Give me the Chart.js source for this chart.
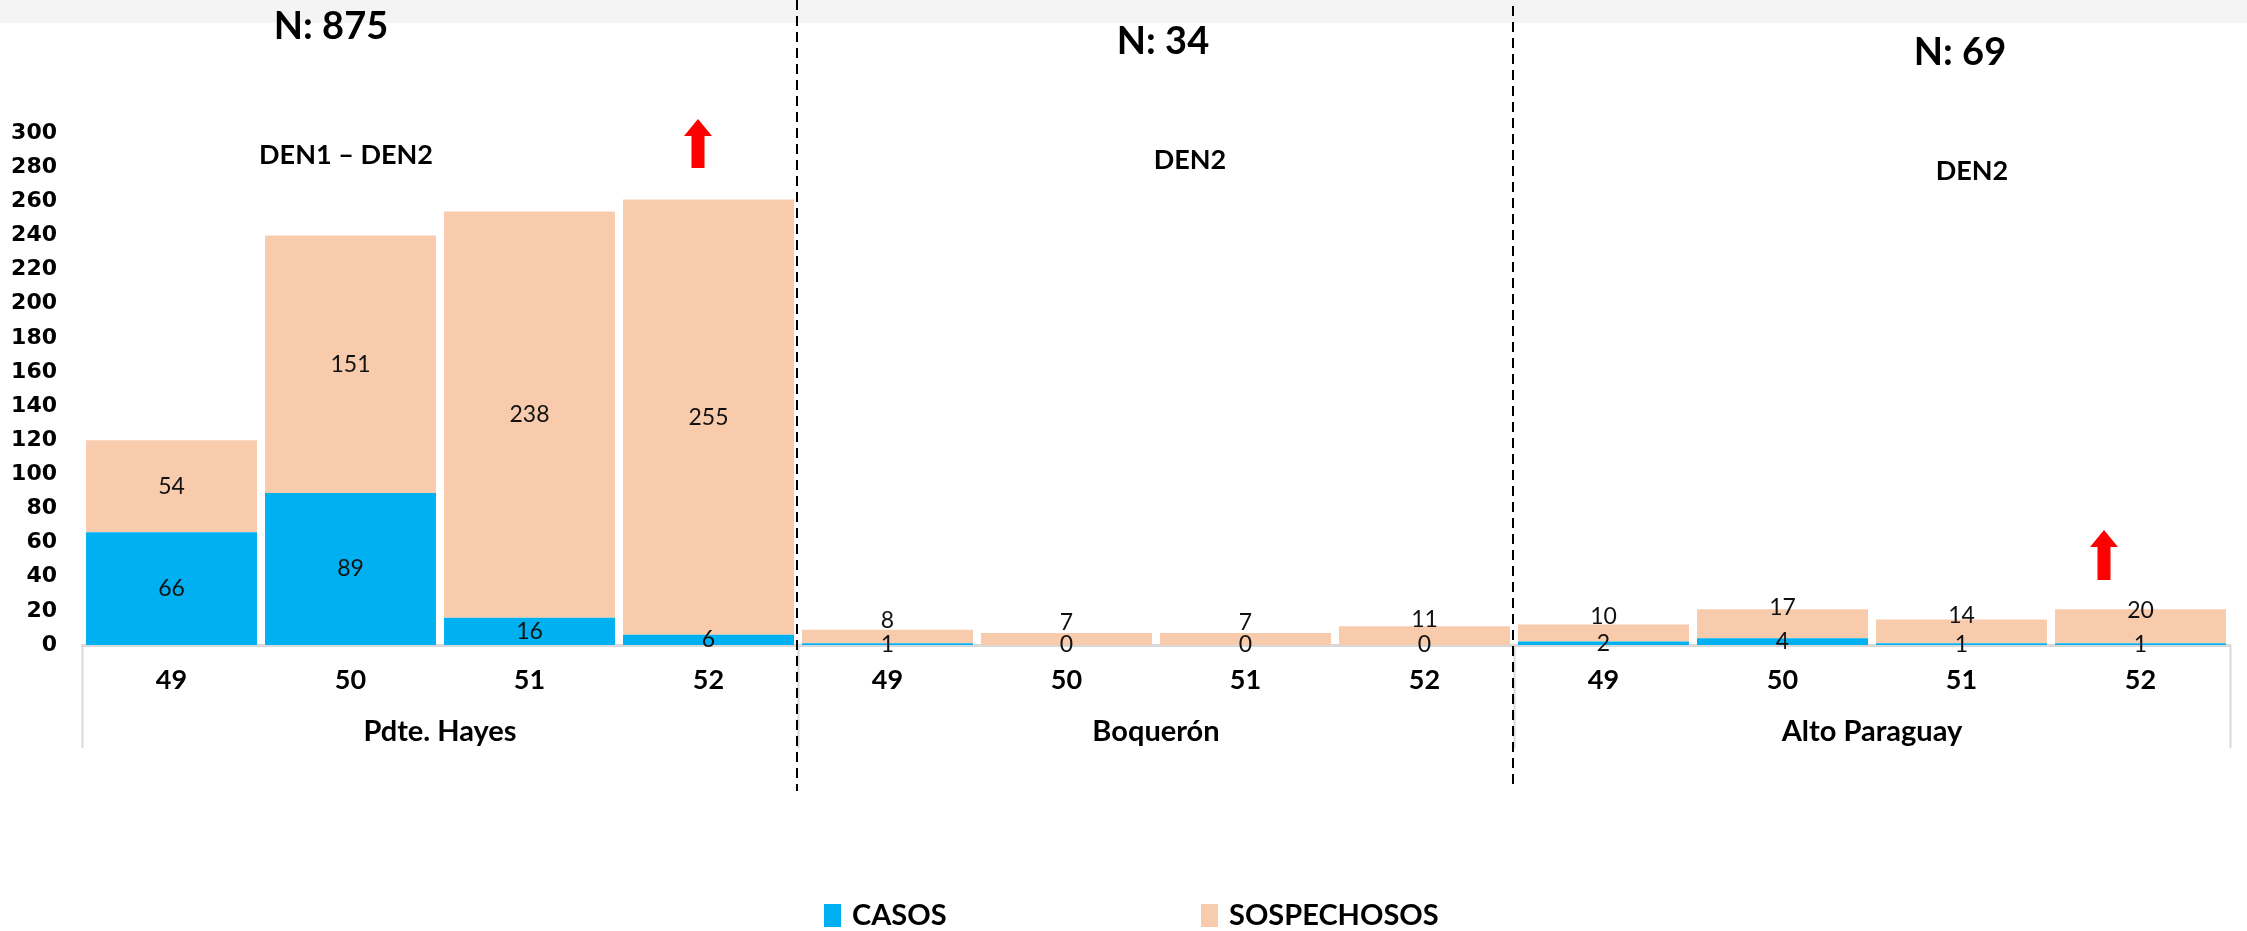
<!DOCTYPE html>
<html>
<head>
<meta charset="utf-8">
<script src="https://cdn.jsdelivr.net/npm/chart.js@4.4.1/dist/chart.umd.min.js"></script>
<style>
  body { margin: 0; background: #fff; }
  canvas { display: block; }
</style>
</head>
<body>
<canvas id="myChart" width="2247" height="931"></canvas>
<script>
// semanas epidemiologicas por departamento
const weeks = ['49', '50', '51', '52', '49', '50', '51', '52', '49', '50', '51', '52']
const departments = ['Pdte. Hayes', 'Boquerón', 'Alto Paraguay']
const casos = [66, 89, 16, 6, 1, 0, 0, 0, 2, 4, 1, 1]
const sospechosos = [54, 151, 238, 255, 8, 7, 7, 11, 10, 17, 14, 20]
const totals_text = ['N: 875', 'N: 34', 'N: 69']
const serotypes = ['DEN1 – DEN2', 'DEN2', 'DEN2']
const y_max = 300
const y_step = 20

const BLUE = '#00B0F0'
const PEACH = '#F8CBAD'
const LABEL_FONT = 'Lato, "Open Sans", sans-serif'

function drawArrow(ctx, cx, top, bottom) {
    const head = 17, headHalf = 14, shaftHalf = 6.5
    ctx.beginPath()
    ctx.moveTo(cx, top)
    ctx.lineTo(cx + headHalf, top + head)
    ctx.lineTo(cx + shaftHalf, top + head)
    ctx.lineTo(cx + shaftHalf, bottom)
    ctx.lineTo(cx - shaftHalf, bottom)
    ctx.lineTo(cx - shaftHalf, top + head)
    ctx.lineTo(cx - headHalf, top + head)
    ctx.closePath()
    ctx.fillStyle = '#FF0000'
    ctx.fill()
}

const overlay = {
    id: 'overlay',
    beforeDraw(chart) {
        const ctx = chart.ctx
        ctx.save()
        ctx.fillStyle = '#fff'
        ctx.fillRect(0, 0, chart.width, chart.height)
        ctx.fillStyle = '#f4f4f4'
        ctx.fillRect(0, 0, chart.width, 23)
        ctx.restore()
    },
    afterDatasetsDraw(chart) {
        // etiquetas de valores centradas en cada segmento
        const ctx = chart.ctx
        ctx.save()
        ctx.font = '23px ' + LABEL_FONT
        ctx.fillStyle = '#111'
        ctx.textAlign = 'center'
        ctx.textBaseline = 'middle'
        chart.data.datasets.forEach((ds, di) => {
            const meta = chart.getDatasetMeta(di)
            meta.data.forEach((bar, i) => {
                const p = bar.getProps(['x', 'y', 'base'], true)
                let cy = (p.y + p.base) / 2
                if (di === 1 && Math.abs(p.base - p.y) < 40) cy -= 16
                ctx.fillText(String(ds.data[i]), p.x, cy)
            })
        })
        ctx.restore()
    },
    afterDraw(chart) {
        const ctx = chart.ctx
        const x = chart.scales.x
        const area = chart.chartArea
        const n = weeks.length / departments.length
        ctx.save()

        // recuadro gris del eje de categorias
        ctx.strokeStyle = '#d9d9d9'
        ctx.lineWidth = 2
        for (let g = 0; g <= departments.length; g++) {
            let bx
            if (g === 0) bx = x.left
            else if (g === departments.length) bx = x.right
            else bx = (x.getPixelForValue(g * n - 1) + x.getPixelForValue(g * n)) / 2
            ctx.beginPath()
            ctx.moveTo(bx + 0.5, area.bottom)
            ctx.lineTo(bx + 0.5, 748)
            ctx.stroke()
        }

        // separadores punteados
        ctx.strokeStyle = '#000'
        ctx.lineWidth = 2
        ctx.setLineDash([10, 6])
        const ends = [791, 785]
        for (let g = 1; g < departments.length; g++) {
            const bx = (x.getPixelForValue(g * n - 1) + x.getPixelForValue(g * n)) / 2
            ctx.beginPath()
            ctx.moveTo(bx - 1, g === 1 ? 0 : 6)
            ctx.lineTo(bx - 1, ends[g - 1])
            ctx.stroke()
        }
        ctx.setLineDash([])

        // titulos N y serotipos
        ctx.fillStyle = '#000'
        ctx.textAlign = 'center'
        ctx.textBaseline = 'middle'
        const nPos = [[331, 27], [1163, 42], [1960, 53]]
        ctx.font = 'bold 38px ' + LABEL_FONT
        totals_text.forEach((t, i) => ctx.fillText(t, nPos[i][0], nPos[i][1]))
        const sPos = [[346, 155], [1190, 160], [1972, 171]]
        ctx.font = 'bold 27px ' + LABEL_FONT
        serotypes.forEach((t, i) => ctx.fillText(t, sPos[i][0], sPos[i][1]))

        // flechas de tendencia
        drawArrow(ctx, 698, 119, 168)
        drawArrow(ctx, 2104, 530, 580)

        // leyenda
        ctx.textAlign = 'left'
        ctx.font = 'bold 29px ' + LABEL_FONT
        const legendItems = [[824, BLUE, 'CASOS'], [1201, PEACH, 'SOSPECHOSOS']]
        legendItems.forEach(item => {
            ctx.fillStyle = item[1]
            ctx.fillRect(item[0], 904, 17, 23)
            ctx.fillStyle = '#000'
            ctx.fillText(item[2], item[0] + 28, 916)
        })
        ctx.restore()
    }
}

const config = {
    type: 'bar',
    data: {
        labels: weeks,
        datasets: [
            {
                label: 'CASOS',
                data: casos,
                backgroundColor: BLUE,
                xAxisID: 'x',
                categoryPercentage: 1,
                barPercentage: 0.955
            },
            {
                label: 'SOSPECHOSOS',
                data: sospechosos,
                backgroundColor: PEACH,
                xAxisID: 'x',
                categoryPercentage: 1,
                barPercentage: 0.955
            }
        ]
    },
    plugins: [overlay],
    options: {
        responsive: false,
        animation: false,
        layout: {
            padding: { top: 133, left: 0, right: 17, bottom: 166 }
        },
        plugins: {
            legend: { display: false },
            tooltip: { enabled: false }
        },
        scales: {
            x: {
                stacked: true,
                weight: 0,
                grid: { display: false },
                border: { display: true, color: '#d9d9d9', width: 3 },
                ticks: {
                    padding: 11,
                    color: '#000',
                    font: { family: LABEL_FONT, size: 27, weight: 'bold' }
                },
                afterFit: scale => { scale.height = 60 }
            },
            x2: {
                type: 'category',
                labels: departments,
                position: 'bottom',
                offset: true,
                weight: 1,
                grid: { display: false },
                border: { display: false },
                ticks: {
                    padding: 1,
                    color: '#000',
                    font: { family: LABEL_FONT, size: 29, weight: 'bold' }
                },
                afterFit: scale => { scale.height = 60 }
            },
            y: {
                stacked: true,
                min: 0,
                max: y_max,
                grid: { display: false },
                border: { display: false },
                ticks: {
                    stepSize: y_step,
                    padding: 17,
                    color: '#000',
                    font: { family: '"DejaVu Sans", Verdana, sans-serif', size: 22, weight: 'bold' }
                },
                afterFit: scale => { scale.width = 82 }
            }
        }
    }
}

var myChart = new Chart(document.getElementById('myChart'), config)
</script>
</body>
</html>
